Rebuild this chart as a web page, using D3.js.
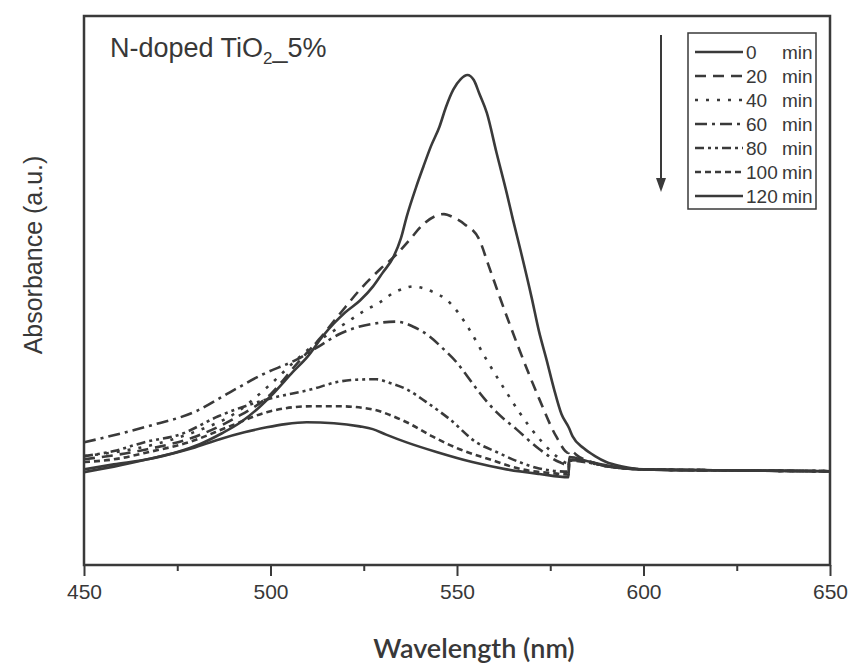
<!DOCTYPE html>
<html>
<head>
<meta charset="utf-8">
<script src="https://cdn.jsdelivr.net/npm/d3@7"></script>
<style>
  body { margin: 0; background: #fff; }
  text { font-family: "Liberation Sans", Arial, sans-serif; fill: #383838; }
</style>
</head>
<body>
<div class="chart"></div>
<script>
// spectra: [wavelength nm, absorbance a.u.]
var t0 = [[450,0.003],[458,0.015],[467,0.031],[475,0.047],[481,0.064],[487,0.088],[492,0.112],[497,0.145],[501,0.177],[506,0.222],[510,0.256],[514,0.300],[517,0.328],[520,0.352],[524,0.378],[527.5,0.409],[530,0.438],[533,0.474],[535,0.515],[536.5,0.561],[539,0.625],[541,0.671],[543,0.715],[545.3,0.758],[547,0.800],[549,0.839],[551,0.862],[552.8,0.871],[554.5,0.860],[556,0.830],[558,0.788],[560.6,0.701],[563.3,0.614],[565,0.555],[567,0.489],[570,0.385],[572,0.310],[574,0.249],[576,0.185],[578,0.130],[580,0.100],[581,0.081],[584,0.055],[587,0.038],[590,0.025],[594,0.016],[600,0.009],[620,0.007],[650,0.005]];
var t20 = [[450,0.031],[467,0.053],[480,0.081],[490,0.119],[500,0.173],[507,0.239],[513,0.293],[518.5,0.348],[524,0.402],[529.3,0.446],[533.8,0.479],[537.3,0.511],[541,0.545],[544,0.562],[546.5,0.567],[549,0.560],[552,0.545],[556,0.511],[558.2,0.461],[561.4,0.387],[566.7,0.271],[572.1,0.162],[576.6,0.081],[579.9,0.045],[580.1,0.050],[583,0.035],[586,0.025],[590,0.016],[600,0.009],[620,0.007],[650,0.005]];
var t40 = [[450,0.038],[467,0.060],[480,0.092],[490,0.129],[500,0.195],[507,0.249],[513,0.290],[520.4,0.330],[525,0.355],[529.3,0.374],[533,0.395],[536,0.405],[538.1,0.409],[541,0.405],[544,0.395],[547.2,0.380],[550,0.355],[553.3,0.315],[557.9,0.249],[563.3,0.177],[566.7,0.134],[569.4,0.103],[572.9,0.068],[576.6,0.038],[579.9,0.022],[580.1,0.030],[584,0.026],[590,0.016],[600,0.009],[620,0.007],[650,0.005]];
var t60 = [[450,0.068],[467,0.103],[480,0.136],[489,0.177],[498,0.217],[507,0.249],[513,0.278],[518.5,0.305],[523,0.319],[528,0.328],[533.8,0.332],[538,0.322],[542.6,0.300],[546,0.275],[549.9,0.243],[553,0.210],[556,0.177],[560.6,0.134],[565.9,0.097],[572.1,0.053],[577.4,0.025],[579.9,0.018],[580.1,0.030],[584,0.027],[590,0.016],[600,0.009],[620,0.007],[650,0.005]];
var t80 = [[450,0.038],[458,0.049],[466,0.068],[476,0.086],[486,0.125],[499,0.162],[511,0.184],[518.5,0.201],[523,0.205],[528.4,0.206],[532,0.198],[536.5,0.184],[541.8,0.156],[548,0.119],[555.2,0.068],[560.6,0.047],[566.7,0.025],[572,0.011],[579.9,0.004],[580.1,0.028],[585,0.024],[590,0.016],[600,0.009],[620,0.007],[650,0.005]];
var t100 = [[450,0.025],[458,0.031],[468,0.048],[478,0.068],[489,0.103],[499,0.134],[511,0.147],[518.5,0.147],[527.4,0.140],[532,0.128],[536.5,0.112],[543.4,0.081],[550.7,0.053],[558.7,0.031],[567.5,0.009],[575,0.001],[579.9,-0.002],[580.1,0.030],[585,0.026],[590,0.016],[600,0.009],[620,0.007],[650,0.005]];
var t120 = [[450,0.009],[458,0.020],[467,0.031],[471,0.038],[479,0.055],[486.4,0.075],[493,0.090],[499,0.101],[504,0.108],[509.7,0.112],[517,0.110],[523.9,0.103],[527.4,0.097],[531,0.085],[536.5,0.068],[544.5,0.047],[554.1,0.025],[563.3,0.009],[572.1,-0.001],[579.9,-0.008],[580.1,0.036],[585,0.027],[590,0.018],[600,0.009],[620,0.007],[650,0.005]];

var times = ["0", "20", "40", "60", "80", "100", "120"];
var series = [t0, t20, t40, t60, t80, t100, t120];
var dashes = ["none", "11,7", "3,8", "12,5,3,5", "9,4,3,4,3,4", "6,4", "none"];

var majorTicks = [450, 500, 550, 600, 650];
var minorTicks = [475, 525, 575, 625];

var width = 852, height = 672;
// note: "top" is taken by window.top, so plot edges get their own names
var plotL = 84, plotR = 830, plotT = 16, plotB = 565;

var svg = d3.select(".chart").append("svg")
  .attr("width", width)
  .attr("height", height);

var x = d3.scaleLinear().domain([450, 650]).range([plotL, plotR]);
var y = d3.scaleLinear().domain([-0.2, 1.0]).range([plotB, plotT]);

svg.append("clipPath").attr("id", "plot")
  .append("rect")
  .attr("x", plotL).attr("y", plotT)
  .attr("width", plotR - plotL).attr("height", plotB - plotT);

var line = d3.line()
  .x(function(d) { return x(d[0]); })
  .y(function(d) { return y(d[1]); })
  .curve(d3.curveMonotoneX);

svg.append("g").attr("clip-path", "url(#plot)")
  .selectAll("path")
  .data(series)
  .enter().append("path")
  .attr("d", line)
  .attr("fill", "none")
  .attr("stroke", "#3a3a3a")
  .attr("stroke-width", 2.6)
  .attr("stroke-dasharray", function(d, i) { return dashes[i]; });

// bottom axis, major + minor ticks
var gx = svg.append("g")
  .attr("transform", "translate(0," + plotB + ")")
  .call(d3.axisBottom(x).tickValues(majorTicks).tickSize(11).tickPadding(8).tickFormat(d3.format("d")));
gx.select(".domain").remove();
gx.selectAll("line").attr("stroke", "#3a3a3a").attr("stroke-width", 2);
gx.selectAll("text")
  .style("font-size", "21px")
  .style("fill", "#383838")
  .style("font-family", "'Liberation Sans', Arial, sans-serif");

var gm = svg.append("g")
  .attr("transform", "translate(0," + plotB + ")")
  .call(d3.axisBottom(x).tickValues(minorTicks).tickSize(6).tickFormat(""));
gm.select(".domain").remove();
gm.selectAll("line").attr("stroke", "#3a3a3a").attr("stroke-width", 2);

// frame
svg.append("rect")
  .attr("x", plotL).attr("y", plotT)
  .attr("width", plotR - plotL).attr("height", plotB - plotT)
  .attr("fill", "none")
  .attr("stroke", "#3a3a3a")
  .attr("stroke-width", 2.5);

// axis titles
svg.append("text")
  .attr("x", 474).attr("y", 658)
  .attr("text-anchor", "middle")
  .style("font-family", "Lato, 'Open Sans', sans-serif")
  .style("font-size", "27px")
  .style("font-weight", "600")
  .text("Wavelength (nm)");

svg.append("text")
  .attr("transform", "translate(42,255) rotate(-90)")
  .attr("text-anchor", "middle")
  .style("font-size", "25px")
  .text("Absorbance (a.u.)");

// sample name
var title = svg.append("text")
  .attr("x", 110).attr("y", 57)
  .style("font-size", "27px");
title.append("tspan").text("N-doped TiO");
title.append("tspan").attr("dy", 7).style("font-size", "17px").text("2");
title.append("tspan").attr("dy", -7).text("_5%");

// arrow
svg.append("line")
  .attr("x1", 661).attr("y1", 35).attr("x2", 661).attr("y2", 182)
  .attr("stroke", "#3a3a3a").attr("stroke-width", 2);
svg.append("path")
  .attr("d", "M656,178 L666,178 L661,192 Z")
  .attr("fill", "#3a3a3a");

// legend
var lg = svg.append("g");
lg.append("rect")
  .attr("x", 688).attr("y", 33).attr("width", 128).attr("height", 176)
  .attr("fill", "#fff").attr("stroke", "#3a3a3a").attr("stroke-width", 1.5);

var rows = lg.selectAll(".row")
  .data(times)
  .enter().append("g")
  .attr("class", "row")
  .attr("transform", function(d, i) { return "translate(0," + (52 + i * 24) + ")"; });

rows.append("line")
  .attr("x1", 695).attr("x2", 743)
  .attr("stroke", "#3a3a3a").attr("stroke-width", 2.6)
  .attr("stroke-dasharray", function(d, i) { return dashes[i]; });

rows.append("text")
  .attr("x", 746).attr("y", 7)
  .style("font-size", "19px")
  .text(function(d) { return d; });

rows.append("text")
  .attr("x", 782).attr("y", 7)
  .style("font-size", "19px")
  .text("min");
</script>
</body>
</html>
